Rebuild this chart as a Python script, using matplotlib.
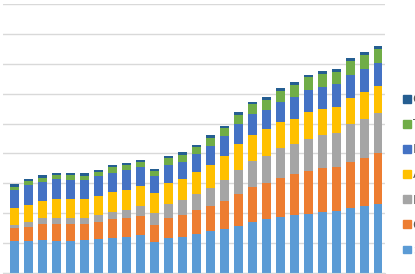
import numpy as np
import matplotlib
matplotlib.use("Agg")
import matplotlib.pyplot as plt
from matplotlib.patches import Patch

# valeurs (1 graduation = 100)
salaries    = [107, 107, 111, 106, 108, 110, 113, 117, 121, 126, 103, 117, 121, 130,
               141, 148, 157, 170, 181, 189, 194, 198, 204, 208, 217, 223, 231]
consumption = [42, 47, 54, 58, 56, 53, 57, 62, 62, 66, 59, 68, 73, 80,
               82, 94, 107, 119, 121, 129, 136, 142, 146, 146, 156, 161, 170]
investment  = [13, 18, 19, 19, 19, 22, 24, 24, 29, 31, 40, 46, 49, 53,
               60, 69, 80, 86, 90, 99, 103, 109, 111, 113, 124, 132, 134]
admin       = [56, 57, 56, 64, 64, 64, 63, 67, 67, 67, 66, 71, 72, 74,
               80, 80, 87, 88, 89, 87, 83, 88, 89, 90, 90, 89, 89]
interest    = [61, 67, 66, 66, 64, 62, 67, 66, 64, 64, 56, 60, 58, 61,
               62, 66, 69, 68, 66, 68, 72, 76, 73, 74, 76, 77, 78]
transfers   = [10, 11, 13, 14, 16, 14, 14, 18, 18, 17, 18, 22, 23, 23,
               27, 27, 30, 34, 33, 38, 41, 42, 44, 42, 47, 47, 48]
capital     = [8, 7, 8, 8, 8, 8, 8, 8, 7, 8, 7, 8, 8, 8,
               9, 8, 8, 8, 8, 8, 9, 9, 8, 8, 8, 9, 9]

series = [salaries, consumption, investment, admin, interest, transfers, capital]
labels = ["Salaries", "Consumption", "Investment", "Admin", "Interest", "Transfers", "Capital"]
colors = ["#5B9BD5", "#ED7D31", "#A5A5A5", "#FFC000", "#4472C4", "#70AD47", "#255E91"]

fig = plt.figure(figsize=(4.15, 2.74), dpi=100)
ax = fig.add_axes([3/415, 1/274, 382/415, 269/274])

x = np.arange(len(salaries))
bottom = np.zeros(len(salaries))
for vals, c in zip(series, colors):
    ax.bar(x, vals, 0.64, bottom=bottom, color=c, zorder=2)
    bottom += np.array(vals)

ax.set_ylim(0, 900)
ax.set_xlim(-0.84, 26.5)
ax.set_yticks(np.arange(0, 901, 100))
ax.yaxis.grid(True, color="#D9D9D9", lw=1, zorder=0)
ax.tick_params(left=False, bottom=False, labelleft=False, labelbottom=False)
for s in ["top", "left", "right"]:
    ax.spines[s].set_visible(False)
ax.spines["bottom"].set_color("#D9D9D9")

# légende coupée au bord droit, comme sur l'original
handles = [Patch(color=c) for c in colors[::-1]]
fig.legend(handles, labels[::-1], loc="center left", bbox_to_anchor=(392/415, 99/274),
           frameon=False, fontsize=9, handlelength=0.6, handleheight=0.6,
           handletextpad=0.15, labelspacing=0.97, labelcolor="#595959")

fig.savefig("out.png", dpi=100)
